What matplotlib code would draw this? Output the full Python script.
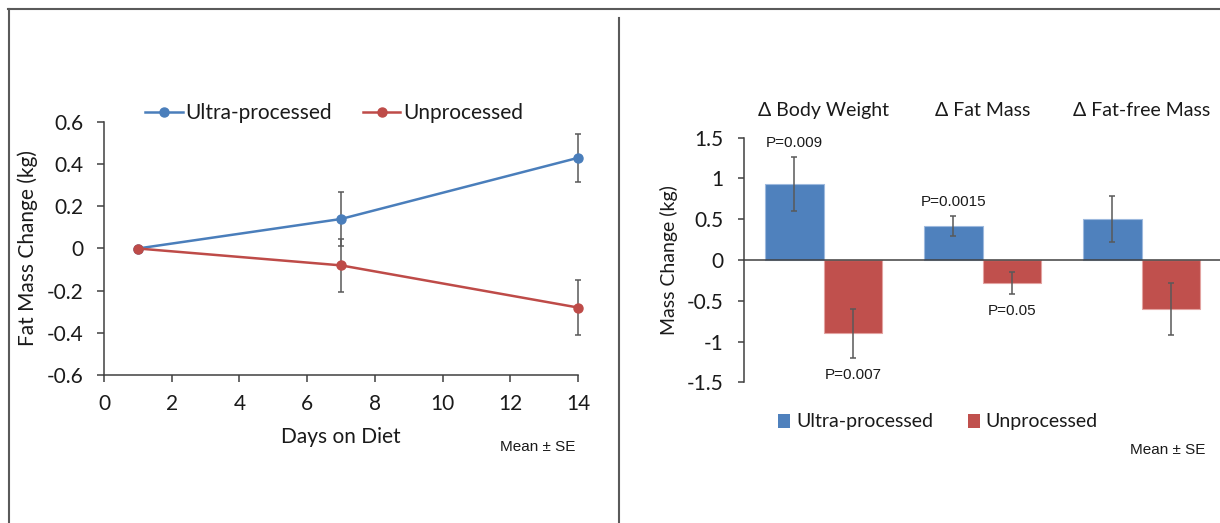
import numpy as np
import matplotlib
matplotlib.use("Agg")
import matplotlib.pyplot as plt
from matplotlib.lines import Line2D
from matplotlib.patches import Patch

plt.rcParams['font.family'] = ['Lato', 'DejaVu Sans']

# --- fat mass over time ---
days = [1, 7, 14]
fat_ultra = [0.0, 0.14, 0.43]
fat_ultra_se = [np.nan, 0.13, 0.115]
fat_unproc = [0.0, -0.08, -0.28]
fat_unproc_se = [np.nan, 0.125, 0.13]

# --- end-of-period changes ---
measures = ['\u0394 Body Weight', '\u0394 Fat Mass', '\u0394 Fat-free Mass']
chg_ultra = [0.93, 0.42, 0.50]
chg_ultra_se = [0.33, 0.12, 0.28]
chg_unproc = [-0.90, -0.28, -0.60]
chg_unproc_se = [0.30, 0.135, 0.32]
p_ultra = ['P=0.009', 'P=0.0015', None]
p_unproc = ['P=0.007', 'P=0.05', None]

BLUE = '#4F81BD'
RED = '#C0504D'
BLUE_LINE = '#4A7EBB'
RED_LINE = '#BE4B48'
ERR = '#595959'
AXC = '#404040'
TXT = '#1a1a1a'
FS = 15
FS_R = 14
SMALL = 11

fig = plt.figure(figsize=(12.2, 5.23), dpi=100)

# ---------- left: line chart ----------
ax1 = fig.add_axes([104/1220, 1-375/523, 474/1220, 253/523])
for y, se, c in [(fat_ultra, fat_ultra_se, BLUE_LINE), (fat_unproc, fat_unproc_se, RED_LINE)]:
    ax1.errorbar(days, y, yerr=se, fmt='none', ecolor=ERR, elinewidth=1.1,
                 capsize=2.5, capthick=1.1, zorder=2, clip_on=False)
    ax1.plot(days, y, color=c, lw=1.8, marker='o', ms=6.5, zorder=3, clip_on=False)

ax1.set_xlim(0, 14)
ax1.set_ylim(-0.6, 0.6)
ax1.set_xticks(range(0, 15, 2))
ax1.set_yticks(np.arange(-0.6, 0.61, 0.2))
ax1.set_yticklabels(['-0.6', '-0.4', '-0.2', '0', '0.2', '0.4', '0.6'])
ax1.spines[['top', 'right']].set_visible(False)
for s in ['left', 'bottom']:
    ax1.spines[s].set_color(AXC)
    ax1.spines[s].set_linewidth(1.1)
ax1.tick_params(axis='both', direction='out', length=5, width=1.1, color=AXC,
                labelsize=FS, labelcolor=TXT)
ax1.tick_params(axis='y', pad=10)
ax1.tick_params(axis='x', pad=9)
ax1.set_xlabel('Days on Diet', fontsize=FS, color=TXT, va='center')
ax1.xaxis.set_label_coords(0.5, -0.245)
ax1.set_ylabel('Fat Mass Change (kg)', fontsize=FS, color=TXT, va='center')
ax1.yaxis.set_label_coords(-76/474, 0.5)

h1 = [Line2D([], [], color=BLUE_LINE, lw=1.8, marker='o', ms=6.5),
      Line2D([], [], color=RED_LINE, lw=1.8, marker='o', ms=6.5)]
fig.legend(h1, ['Ultra-processed', 'Unprocessed'], loc='center',
           bbox_to_anchor=(334/1220, 1-113/523), ncol=2, frameon=False,
           fontsize=FS, handlelength=1.8, handletextpad=0.12, columnspacing=1.5,
           labelcolor=TXT)

fig.text(575/1220, 1-447/523, 'Mean \u00b1 SE', ha='right', va='center',
         fontsize=SMALL, family='Liberation Sans', color=TXT)

# ---------- right: bar chart ----------
ax2 = fig.add_axes([744/1220, 1-382.3/523, 477/1220, 244.6/523])
x = np.arange(len(measures))
w = 0.368
ax2.bar(x - w/2, chg_ultra, w, color=BLUE, edgecolor='#9DB9DE', lw=0.8, zorder=2)
ax2.bar(x + w/2, chg_unproc, w, color=RED, edgecolor='#E3A3A1', lw=0.8, zorder=2)
ax2.errorbar(x - w/2, chg_ultra, yerr=chg_ultra_se, fmt='none', ecolor=ERR,
             elinewidth=1.1, capsize=2.5, capthick=1.1, zorder=3)
ax2.errorbar(x + w/2, chg_unproc, yerr=chg_unproc_se, fmt='none', ecolor=ERR,
             elinewidth=1.1, capsize=2.5, capthick=1.1, zorder=3)

for i in range(len(measures)):
    if p_ultra[i]:
        ax2.annotate(p_ultra[i], (x[i] - w/2, chg_ultra[i] + chg_ultra_se[i]),
                     xytext=(0, 10), textcoords='offset points', ha='center',
                     va='center', fontsize=SMALL, family='Liberation Sans', color=TXT)
    if p_unproc[i]:
        ax2.annotate(p_unproc[i], (x[i] + w/2, chg_unproc[i] - chg_unproc_se[i]),
                     xytext=(0, -12), textcoords='offset points', ha='center',
                     va='center', fontsize=SMALL, family='Liberation Sans', color=TXT)
    ax2.text(x[i], 1.113, measures[i], transform=ax2.get_xaxis_transform(),
             ha='center', va='center', fontsize=FS_R, color=TXT)

ax2.set_xlim(-0.5, 2.5)
ax2.set_ylim(-1.5, 1.5)
ax2.set_yticks(np.arange(-1.5, 1.51, 0.5))
ax2.set_yticklabels(['-1.5', '-1', '-0.5', '0', '0.5', '1', '1.5'])
ax2.set_xticks([])
ax2.spines[['top', 'right']].set_visible(False)
ax2.spines['bottom'].set_position(('data', 0))
for s in ['left', 'bottom']:
    ax2.spines[s].set_color(AXC)
    ax2.spines[s].set_linewidth(1.1)
ax2.spines['bottom'].set_zorder(4)
ax2.tick_params(axis='y', direction='out', length=4.5, width=1.1, color=AXC,
                labelsize=FS, labelcolor=TXT, pad=10)
ax2.set_ylabel('Mass Change (kg)', fontsize=FS_R, color=TXT, va='center')
ax2.yaxis.set_label_coords(-75/477, 0.5)

h2 = [Patch(facecolor=BLUE), Patch(facecolor=RED)]
fig.legend(h2, ['Ultra-processed', 'Unprocessed'], loc='center',
           bbox_to_anchor=(938/1220, 1-422/523), ncol=2, frameon=False,
           fontsize=FS_R, handlelength=0.6, handleheight=0.75, handletextpad=0.3,
           columnspacing=1.8, labelcolor=TXT)

fig.text(1205/1220, 1-450/523, 'Mean \u00b1 SE', ha='right', va='center',
         fontsize=SMALL, family='Liberation Sans', color=TXT)

# ---------- panel frame ----------
FR = '#5a5a5a'
fig.add_artist(Line2D([8/1220, 1], [1-9/523, 1-9/523], color=FR, lw=1.5))
fig.add_artist(Line2D([8.5/1220, 8.5/1220], [0, 1-9/523], color=FR, lw=1.5))
fig.add_artist(Line2D([618.5/1220, 618.5/1220], [0, 1-17.5/523], color=FR, lw=1.5))

fig.savefig('out.png', dpi=100)
